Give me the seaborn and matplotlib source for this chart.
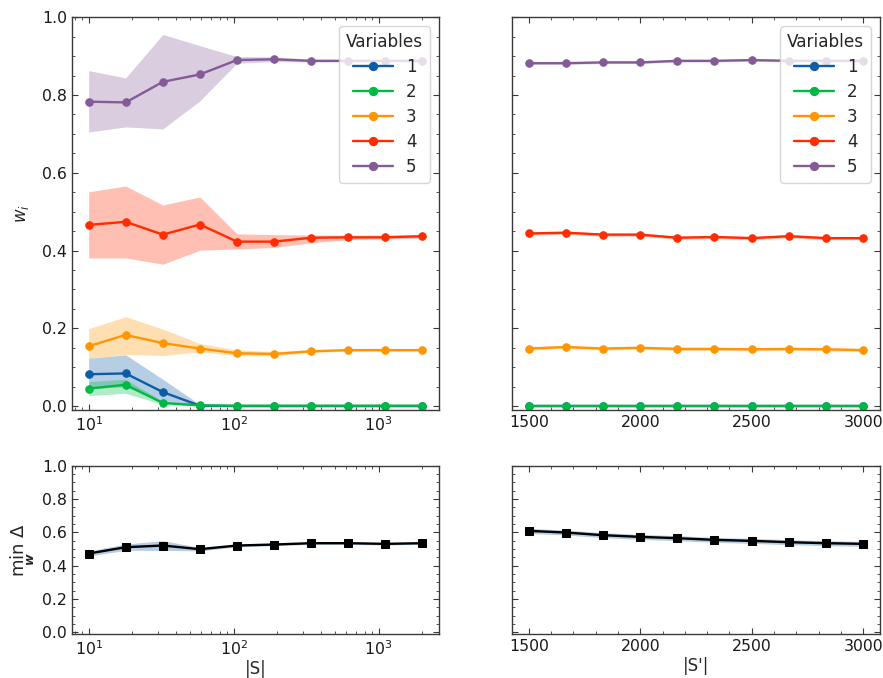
import numpy as np
import pandas as pd
import matplotlib
matplotlib.use("Agg")
import matplotlib.pyplot as plt
from matplotlib.ticker import MultipleLocator, LogLocator, NullFormatter
import seaborn as sns

# ---- sample sizes ----
sizes_small = [10, 18.0, 32.5, 58.5, 105.4, 189.9, 342.1, 616.4, 1110.6, 2000]
sizes_large = [1500, 1667, 1833, 2000, 2167, 2333, 2500, 2667, 2833, 3000]
variables = ["1", "2", "3", "4", "5"]
colors = ["#0C5DA5", "#00B945", "#FF9500", "#FF2C00", "#845B97"]

# ---- weights w_i vs |S| : mean, lower, upper ----
w1_mean = [0.082, 0.084, 0.036, 0.001, 0.000, 0.000, 0.000, 0.000, 0.000, 0.000]
w1_lo   = [0.045, 0.050, 0.010, 0.000, 0.000, 0.000, 0.000, 0.000, 0.000, 0.000]
w1_hi   = [0.123, 0.132, 0.069, 0.004, 0.001, 0.001, 0.001, 0.001, 0.001, 0.001]
w2_mean = [0.045, 0.055, 0.008, 0.002, 0.001, 0.001, 0.001, 0.001, 0.001, 0.001]
w2_lo   = [0.027, 0.033, 0.004, 0.000, 0.000, 0.000, 0.000, 0.000, 0.000, 0.000]
w2_hi   = [0.063, 0.069, 0.012, 0.004, 0.002, 0.002, 0.002, 0.002, 0.002, 0.002]
w3_mean = [0.154, 0.183, 0.162, 0.148, 0.136, 0.134, 0.141, 0.144, 0.144, 0.144]
w3_lo   = [0.123, 0.133, 0.130, 0.140, 0.130, 0.129, 0.138, 0.141, 0.141, 0.141]
w3_hi   = [0.199, 0.230, 0.198, 0.161, 0.145, 0.140, 0.145, 0.147, 0.147, 0.147]
w4_mean = [0.466, 0.474, 0.441, 0.467, 0.423, 0.423, 0.433, 0.434, 0.434, 0.437]
w4_lo   = [0.381, 0.381, 0.365, 0.401, 0.404, 0.408, 0.420, 0.428, 0.430, 0.432]
w4_hi   = [0.551, 0.566, 0.517, 0.538, 0.443, 0.441, 0.440, 0.440, 0.440, 0.441]
w5_mean = [0.783, 0.781, 0.834, 0.853, 0.890, 0.892, 0.888, 0.888, 0.888, 0.888]
w5_lo   = [0.705, 0.718, 0.713, 0.785, 0.882, 0.886, 0.885, 0.885, 0.885, 0.885]
w5_hi   = [0.863, 0.844, 0.956, 0.927, 0.899, 0.898, 0.892, 0.891, 0.891, 0.891]

# ---- weights w_i vs |S'| : mean and half-width of the band ----
v1_mean = [0.000] * 10
v2_mean = [0.000] * 10
v3_mean = [0.148, 0.152, 0.148, 0.150, 0.147, 0.147, 0.146, 0.147, 0.146, 0.144]
v4_mean = [0.444, 0.446, 0.441, 0.441, 0.433, 0.435, 0.432, 0.437, 0.432, 0.432]
v5_mean = [0.882, 0.882, 0.884, 0.884, 0.888, 0.888, 0.890, 0.888, 0.888, 0.888]
v_spread = [0.001, 0.001, 0.004, 0.004, 0.003]

# ---- min Delta ----
d_small_mean = [0.473, 0.511, 0.521, 0.499, 0.521, 0.527, 0.535, 0.535, 0.531, 0.535]
d_small_lo   = [0.458, 0.492, 0.492, 0.489, 0.513, 0.520, 0.528, 0.528, 0.524, 0.528]
d_small_hi   = [0.488, 0.530, 0.550, 0.509, 0.529, 0.534, 0.542, 0.542, 0.538, 0.542]
d_large_mean = [0.609, 0.599, 0.583, 0.573, 0.565, 0.555, 0.549, 0.541, 0.535, 0.531]
d_large_spread = 0.015


def band_frame(x, mean, lo, hi, label=None):
    """Long table with lower/central/upper rows so that the median is the
    central line and the full percentile interval is the band."""
    rows = []
    for xi, m, l, h in zip(x, mean, lo, hi):
        for v in (l, m, h):
            rows.append({"x": xi, "y": v, "var": label})
    return pd.DataFrame(rows)


FS = 11.3
sns.set_theme(style="ticks")
plt.rcParams.update({
    "font.family": ["DejaVu Sans"],
    "mathtext.fontset": "dejavusans",
    "font.size": FS,
    "axes.labelsize": 12,
    "xtick.labelsize": FS,
    "ytick.labelsize": FS,
    "legend.fontsize": 12,
    "legend.title_fontsize": 12.2,
    "axes.edgecolor": "#3a3a3a",
    "axes.linewidth": 1.0,
    "xtick.direction": "in",
    "ytick.direction": "in",
    "xtick.top": True,
    "ytick.right": True,
    "xtick.major.size": 4,
    "ytick.major.size": 4,
    "xtick.minor.size": 2,
    "ytick.minor.size": 2,
    "xtick.major.width": 0.8,
    "ytick.major.width": 0.8,
    "xtick.minor.width": 0.6,
    "ytick.minor.width": 0.6,
    "xtick.minor.visible": True,
    "ytick.minor.visible": True,
})

fig = plt.figure(figsize=(8.83, 6.78), dpi=100)
ax_tl = fig.add_axes([0.0815, 0.3953, 0.4156, 0.5792])
ax_tr = fig.add_axes([0.5798, 0.3953, 0.4168, 0.5792])
ax_bl = fig.add_axes([0.0815, 0.0649, 0.4156, 0.2482])
ax_br = fig.add_axes([0.5798, 0.0649, 0.4168, 0.2482])

line_kws = dict(marker="o", markersize=5.4, markeredgecolor=None,
                linewidth=1.7, estimator="median", errorbar=("pi", 100),
                err_kws={"alpha": 0.3, "linewidth": 0})

# top-left: weights vs |S|
small = pd.concat([
    band_frame(sizes_small, w1_mean, w1_lo, w1_hi, "1"),
    band_frame(sizes_small, w2_mean, w2_lo, w2_hi, "2"),
    band_frame(sizes_small, w3_mean, w3_lo, w3_hi, "3"),
    band_frame(sizes_small, w4_mean, w4_lo, w4_hi, "4"),
    band_frame(sizes_small, w5_mean, w5_lo, w5_hi, "5"),
], ignore_index=True)
sns.lineplot(data=small, x="x", y="y", hue="var", hue_order=variables,
             palette=colors, ax=ax_tl, **line_kws)

# top-right: weights vs |S'|
large_means = [v1_mean, v2_mean, v3_mean, v4_mean, v5_mean]
large = pd.concat([
    band_frame(sizes_large, m,
               [a - s for a in m], [a + s for a in m], lab)
    for m, s, lab in zip(large_means, v_spread, variables)
], ignore_index=True)
sns.lineplot(data=large, x="x", y="y", hue="var", hue_order=variables,
             palette=colors, ax=ax_tr, **line_kws)

# bottom: min Delta, black line with a blue band drawn over it
dsmall = band_frame(sizes_small, d_small_mean, d_small_lo, d_small_hi)
dlarge = band_frame(sizes_large, d_large_mean,
                    [a - d_large_spread for a in d_large_mean],
                    [a + d_large_spread for a in d_large_mean])
for ax, df in ((ax_bl, dsmall), (ax_br, dlarge)):
    sns.lineplot(data=df, x="x", y="y", ax=ax, color="black", marker="s",
                 markersize=5.6, markeredgecolor=None, linewidth=1.7,
                 estimator="median", errorbar=None)
    sns.lineplot(data=df, x="x", y="y", ax=ax, color=colors[0], linewidth=0,
                 estimator="median", errorbar=("pi", 100),
                 err_kws={"alpha": 0.3, "linewidth": 0})

# axes formatting
for ax in (ax_tl, ax_bl):
    ax.set_xscale("log")
    ax.set_xlim(10 ** 0.885, 10 ** 3.416)
    ax.xaxis.set_minor_locator(LogLocator(base=10, subs=np.arange(2, 10)))
    ax.xaxis.set_minor_formatter(NullFormatter())
for ax in (ax_tr, ax_br):
    ax.set_xlim(1425, 3075)
    ax.xaxis.set_major_locator(MultipleLocator(500))
    ax.xaxis.set_minor_locator(MultipleLocator(100))
for ax in (ax_tl, ax_tr, ax_bl, ax_br):
    ax.set_ylim(-0.01, 1.0)
    ax.yaxis.set_major_locator(MultipleLocator(0.2))
    ax.yaxis.set_minor_locator(MultipleLocator(0.05))
    ax.set_xlabel("")
    ax.set_ylabel("")
    ax.tick_params(which="both", colors="#3a3a3a", labelcolor="#1a1a1a")
for ax in (ax_tr, ax_br):
    ax.tick_params(labelleft=False)

ax_tl.set_ylabel(r"$w_i$", labelpad=8)
ax_bl.set_ylabel(r"$\min_{\mathbfit{w}}\ \Delta$", fontsize=13, labelpad=4)
ax_bl.set_xlabel("|S|", labelpad=2)
ax_br.set_xlabel("|S'|", labelpad=2)

for ax in (ax_tl, ax_tr):
    handles, labels = ax.get_legend_handles_labels()
    ax.legend(handles, labels, title="Variables", loc="upper right",
              handlelength=2.4, labelspacing=0.42, borderaxespad=0.55,
              markerscale=1.1)

fig.savefig("out.png", dpi=100)
